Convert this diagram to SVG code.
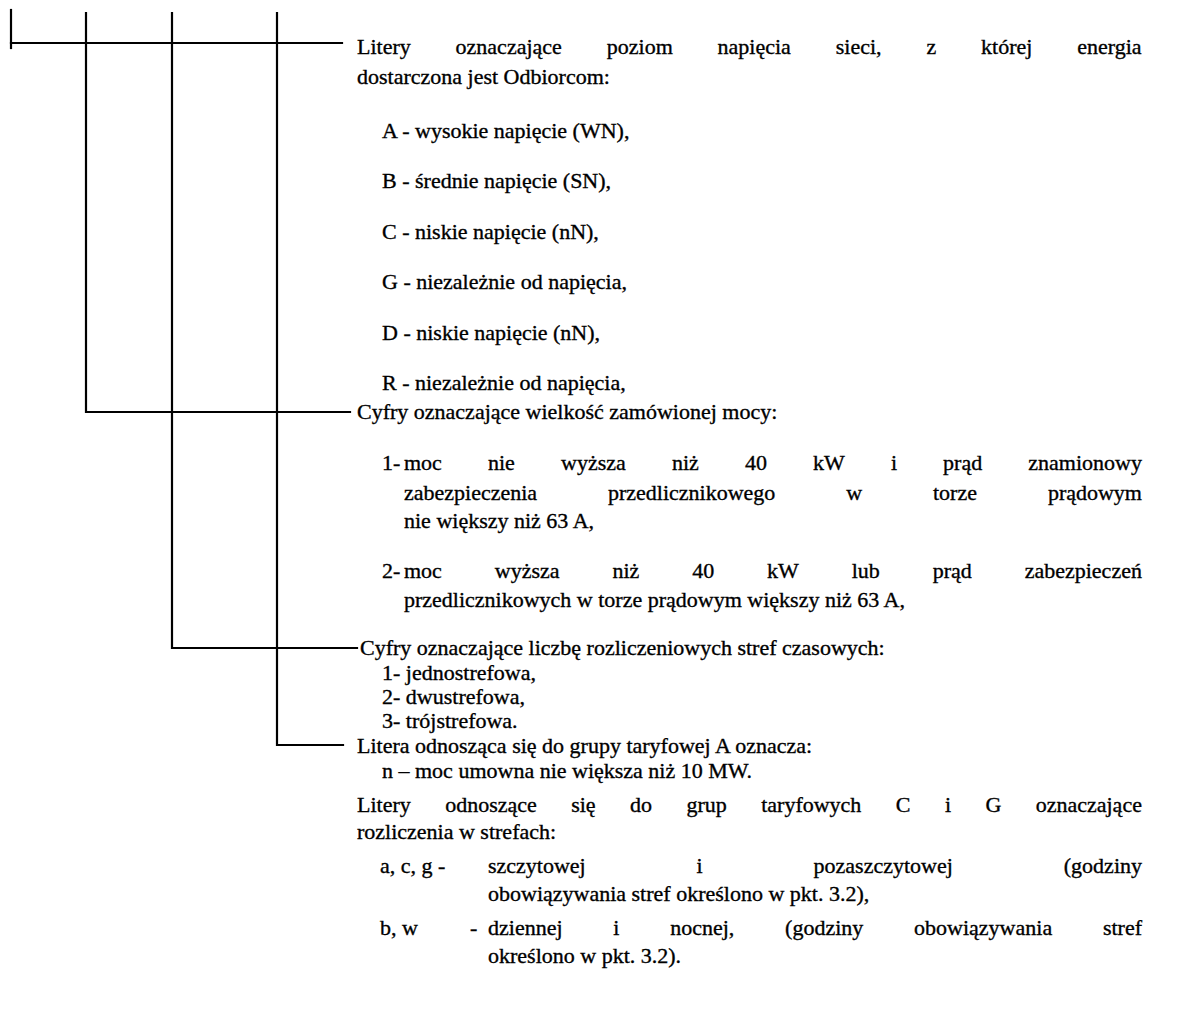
<svg xmlns="http://www.w3.org/2000/svg" width="1183" height="1032" viewBox="0 0 1183 1032">
<style>
  text { font-family: "Liberation Serif", "Times New Roman", serif; font-size: 22px; fill: #000; stroke: #000; stroke-width: 0.35; }
  .ln { stroke: #000; stroke-width: 2.2; fill: none; stroke-linecap: square; }
</style>
<rect width="1183" height="1032" fill="#fff"/>
<g id="connectors">
  <line class="ln" x1="11" y1="10" x2="11" y2="48"/>
  <line class="ln" x1="11" y1="43" x2="342" y2="43"/>
  <path class="ln" d="M86 13 V412 H350"/>
  <path class="ln" d="M172 13 V648 H357"/>
  <path class="ln" d="M277 13 V745 H343"/>
</g>
<g id="node-napiecie">
  <text y="54"><tspan x="357">Litery</tspan><tspan x="455.6">oznaczające</tspan><tspan x="606.8">poziom</tspan><tspan x="717.6">napięcia</tspan><tspan x="835.8">sieci,</tspan><tspan x="926.5">z</tspan><tspan x="981.1">której</tspan><tspan x="1077.3">energia</tspan></text>
  <text x="357" y="84">dostarczona jest Odbiorcom:</text>
  <text x="382" y="138">A - wysokie napięcie (WN),</text>
  <text x="382" y="188">B - średnie napięcie (SN),</text>
  <text x="382" y="239">C - niskie napięcie (nN),</text>
  <text x="382" y="289">G - niezależnie od napięcia,</text>
  <text x="382" y="340">D - niskie napięcie (nN),</text>
  <text x="382" y="390">R - niezależnie od napięcia,</text>
</g>
<g id="node-moc">
  <text x="357" y="419">Cyfry oznaczające wielkość zamówionej mocy:</text>
  <text y="470"><tspan x="382">1-</tspan><tspan x="404">moc</tspan><tspan x="488">nie</tspan><tspan x="561">wyższa</tspan><tspan x="671.9">niż</tspan><tspan x="744.9">40</tspan><tspan x="813">kW</tspan><tspan x="890.9">i</tspan><tspan x="943.1">prąd</tspan><tspan x="1028.3">znamionowy</tspan></text>
  <text y="500"><tspan x="404">zabezpieczenia</tspan><tspan x="608">przedlicznikowego</tspan><tspan x="846.3">w</tspan><tspan x="933">torze</tspan><tspan x="1047.9">prądowym</tspan></text>
  <text x="404" y="528">nie większy niż 63 A,</text>
  <text y="578"><tspan x="382">2-</tspan><tspan x="404">moc</tspan><tspan x="494.8">wyższa</tspan><tspan x="612.4">niż</tspan><tspan x="692.2">40</tspan><tspan x="767.1">kW</tspan><tspan x="851.7">lub</tspan><tspan x="932.7">prąd</tspan><tspan x="1024.7">zabezpieczeń</tspan></text>
  <text x="404" y="607">przedlicznikowych w torze prądowym większy niż 63 A,</text>
</g>
<g id="node-strefy">
  <text x="360" y="655">Cyfry oznaczające liczbę rozliczeniowych stref czasowych:</text>
  <text x="382" y="680">1- jednostrefowa,</text>
  <text x="382" y="704">2- dwustrefowa,</text>
  <text x="382" y="728">3- trójstrefowa.</text>
</g>
<g id="node-litera">
  <text x="357" y="753">Litera odnosząca się do grupy taryfowej A oznacza:</text>
  <text x="382" y="778">n – moc umowna nie większa niż 10 MW.</text>
  <text y="812"><tspan x="357">Litery</tspan><tspan x="445.2">odnoszące</tspan><tspan x="571.2">się</tspan><tspan x="630.1">do</tspan><tspan x="686.5">grup</tspan><tspan x="761.2">taryfowych</tspan><tspan x="895.8">C</tspan><tspan x="944.9">i</tspan><tspan x="985.4">G</tspan><tspan x="1035.7">oznaczające</tspan></text>
  <text x="357" y="839">rozliczenia w strefach:</text>
  <text y="873"><tspan x="380">a, c, g -</tspan><tspan x="488">szczytowej</tspan><tspan x="696.6">i</tspan><tspan x="813.6">pozaszczytowej</tspan><tspan x="1063.8">(godziny</tspan></text>
  <text x="488" y="901">obowiązywania stref określono w pkt. 3.2),</text>
  <text y="935"><tspan x="380">b, w</tspan><tspan x="470">-</tspan><tspan x="488">dziennej</tspan><tspan x="613.3">i</tspan><tspan x="670.2">nocnej,</tspan><tspan x="785.1">(godziny</tspan><tspan x="914.1">obowiązywania</tspan><tspan x="1102.9">stref</tspan></text>
  <text x="488" y="963">określono w pkt. 3.2).</text>
</g>
</svg>
